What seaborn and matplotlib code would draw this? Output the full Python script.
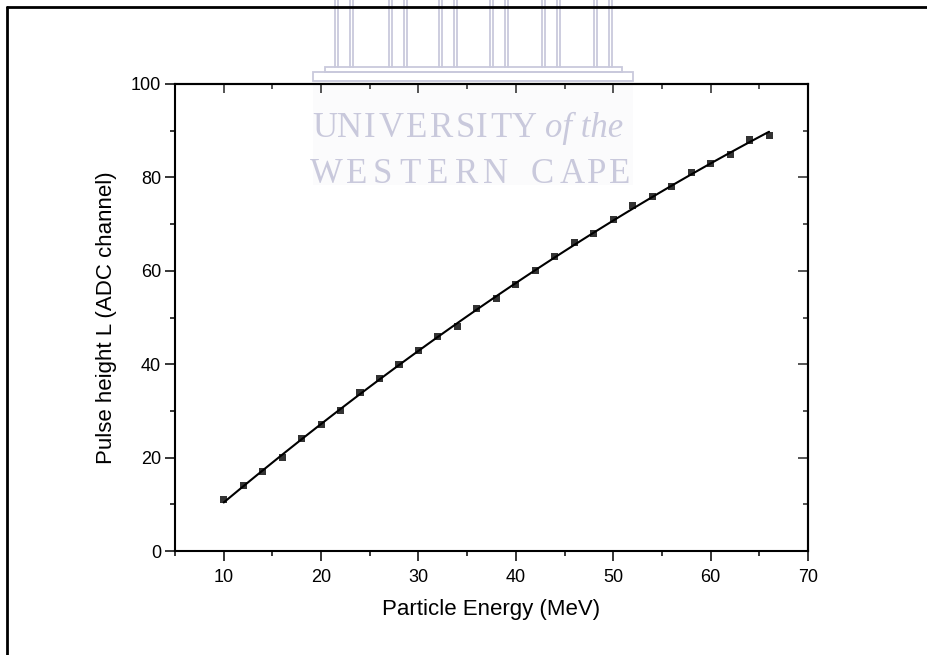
import matplotlib
matplotlib.use("Agg")
import matplotlib.pyplot as plt
import numpy as np
import pandas as pd
import seaborn as sns
from matplotlib.lines import Line2D
from matplotlib.patches import Rectangle
from matplotlib.ticker import MultipleLocator

# Calibration data: particle energy vs. ADC pulse height
energy = [10, 12, 14, 16, 18, 20, 22, 24, 26, 28, 30, 32, 34, 36, 38,
          40, 42, 44, 46, 48, 50, 52, 54, 56, 58, 60, 62, 64, 66]
pulse = [11, 14, 17, 20, 24, 27, 30, 34, 37, 40, 43, 46, 48, 52, 54,
         57, 60, 63, 66, 68, 71, 74, 76, 78, 81, 83, 85, 88, 89]

x_label = "Particle Energy (MeV)"
y_label = "Pulse height L (ADC channel)"

sns.set_theme(style="ticks")
plt.rcParams["font.family"] = ["Liberation Sans", "DejaVu Sans"]

W, H = 927, 655
fig = plt.figure(figsize=(W / 100, H / 100), dpi=100)
fig.patch.set_facecolor("white")


def fpos(x, y):
    """Pixel position (from top-left) to figure fraction."""
    return x / W, 1 - y / H


# ---- watermark (page crest) ----
wm = "#c9c9dc"
fig.add_artist(Rectangle(fpos(313, 185), 320 / W, 103 / H, transform=fig.transFigure,
                         facecolor="#fbfbfc", edgecolor="none", zorder=-5))
for cx in [344, 397.5, 447.5, 499, 551, 602.5]:
    for dx in (-9, -6, 6, 9):
        fig.add_artist(Line2D([(cx + dx) / W] * 2, [1 - 0 / H, 1 - 67 / H],
                              transform=fig.transFigure, color=wm, lw=1.3, zorder=-4))
fig.add_artist(Rectangle(fpos(325, 72), 297 / W, 5 / H, transform=fig.transFigure,
                         facecolor="none", edgecolor=wm, lw=1.3, zorder=-4))
fig.add_artist(Rectangle(fpos(313, 81), 320 / W, 9 / H, transform=fig.transFigure,
                         facecolor="none", edgecolor=wm, lw=1.3, zorder=-4))

line1 = list("UNIVERSITY")
line1_x = [325, 350, 370, 391, 417, 442, 465, 482, 501, 524]
line2 = list("WESTERNCAPE")
line2_x = [326, 357, 382, 410, 438, 467, 495, 542, 572, 597, 620]
for ch, cx in zip(line1, line1_x):
    fig.text(*fpos(cx, 137), ch, ha="center", va="baseline", color=wm,
             fontsize=25, family="Liberation Serif", zorder=-3)
fig.text(*fpos(584, 137), "of the", ha="center", va="baseline", color=wm,
         fontsize=25, family="Liberation Serif", style="italic", zorder=-3)
for ch, cx in zip(line2, line2_x):
    fig.text(*fpos(cx, 183), ch, ha="center", va="baseline", color=wm,
             fontsize=25, family="Liberation Serif", zorder=-3)

# ---- page frame ----
fig.add_artist(Line2D([7 / W, 1.0], [1 - 7 / H] * 2, transform=fig.transFigure,
                      color="black", lw=2.0, zorder=5))
fig.add_artist(Line2D([7 / W] * 2, [1 - 7 / H, 0.0], transform=fig.transFigure,
                      color="black", lw=2.0, zorder=5))

# ---- plot ----
ax = fig.add_axes([175 / W, 1 - 551 / H, (808 - 175) / W, (551 - 84) / H])
ax.patch.set_alpha(0)

df = pd.DataFrame({"energy": energy, "pulse": pulse})
sns.regplot(data=df, x="energy", y="pulse", order=2, ci=None, ax=ax,
            marker="s",
            scatter_kws=dict(s=26, color="black", edgecolors="none", zorder=3),
            line_kws=dict(color="black", lw=1.5, zorder=2))

ax.set_xlim(5, 70)
ax.set_ylim(0, 100)
ax.xaxis.set_major_locator(MultipleLocator(10))
ax.xaxis.set_minor_locator(MultipleLocator(5))
ax.yaxis.set_major_locator(MultipleLocator(20))
ax.yaxis.set_minor_locator(MultipleLocator(10))

for s in ax.spines.values():
    s.set_linewidth(1.5)
    s.set_color("black")
    s.set_visible(True)

ax.tick_params(which="major", direction="out", length=7, width=1.1, color="black",
               labelsize=13, labelcolor="black", pad=3)
ax.tick_params(which="minor", direction="out", length=3.6, width=1.1, color="black")
ax.tick_params(axis="x", which="major", pad=6)
ax.tick_params(which="both", top=False, right=False)

# mirrored axes with inward ticks on top and right
top = ax.secondary_xaxis("top")
top.xaxis.set_major_locator(MultipleLocator(10))
top.xaxis.set_minor_locator(MultipleLocator(5))
top.tick_params(which="major", direction="in", length=6.5, width=1.1, labeltop=False)
top.tick_params(which="minor", direction="in", length=3.6, width=1.1)
top.spines["top"].set_linewidth(1.5)

right = ax.secondary_yaxis("right")
right.yaxis.set_major_locator(MultipleLocator(20))
right.yaxis.set_minor_locator(MultipleLocator(10))
right.tick_params(which="major", direction="in", length=7.5, width=1.1, labelright=False)
right.tick_params(which="minor", direction="in", length=3.6, width=1.1)
right.spines["right"].set_linewidth(1.5)

ax.set_xlabel(x_label, fontsize=16, labelpad=9, color="black")
ax.set_ylabel(y_label, fontsize=16, labelpad=10, color="black")

fig.savefig("out.png", dpi=100, facecolor="white")
